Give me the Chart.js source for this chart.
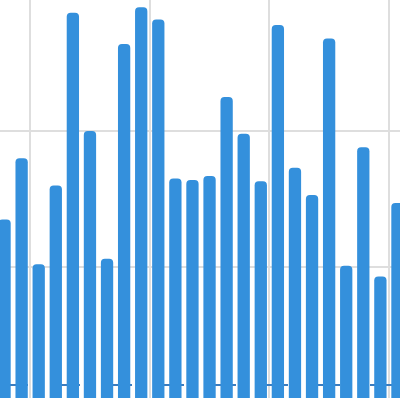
<!DOCTYPE html>
<html>
<head>
<meta charset="utf-8">
<script src="https://cdn.jsdelivr.net/npm/chart.js@4"></script>
<style>
  html, body { margin: 0; padding: 0; background: #fff; overflow: hidden; width: 400px; height: 400px; }
  #wrap { position: absolute; left: -4px; top: 0; width: 410px; height: 398px; }
</style>
</head>
<body>
<div id="wrap"><canvas id="myChart"></canvas></div>
<script>
// categories (no labels are shown in the picture)
var labels = ['1','2','3','4','5','6','7','8','9','10','11','12',
              '13','14','15','16','17','18','19','20','21','22','23','24'];
// bar heights
var values = [13.5, 18.0, 10.2, 16.0, 28.7, 20.0, 10.6, 26.4, 29.1, 28.2, 16.5, 16.4,
              16.7, 22.5, 19.8, 16.3, 27.8, 17.3, 15.3, 26.8, 10.1, 18.8, 9.3, 14.7];
// value axis range and grid lines
var yMin = 0.37;
var yMax = 29.63;
var yTicks = [10, 20];
// dashed reference line value
var refValue = 1.33;

var gridColor = '#dedede';

// dashed line drawn behind the bars
var refLine = {
  id: 'refLine',
  beforeDatasetsDraw: function(chart) {
    var ctx = chart.ctx;
    var area = chart.chartArea;
    var y = chart.scales.y.getPixelForValue(refValue);
    ctx.save();
    ctx.strokeStyle = '#3a7cbf';
    ctx.lineWidth = 2;
    ctx.setLineDash([22, 30]);
    ctx.lineDashOffset = -10;
    ctx.beginPath();
    ctx.moveTo(area.left, y);
    ctx.lineTo(area.right, y);
    ctx.stroke();
    ctx.restore();
  }
};

var ctx = document.getElementById('myChart').getContext('2d');
var myChart = new Chart(ctx, {
  type: 'bar',
  data: {
    labels: labels,
    datasets: [{
      data: values,
      backgroundColor: '#3490dc',
      borderRadius: 4,
      borderSkipped: false
    }]
  },
  options: {
    responsive: true,
    maintainAspectRatio: false,
    animation: false,
    layout: { padding: 0 },
    plugins: {
      legend: { display: false },
      tooltip: { enabled: false }
    },
    scales: {
      x: {
        ticks: { display: false },
        border: { display: false },
        grid: {
          drawTicks: false,
          lineWidth: 2,
          color: function(c) { return c.index % 7 === 2 ? gridColor : 'rgba(0,0,0,0)'; }
        }
      },
      y: {
        min: yMin,
        max: yMax,
        afterBuildTicks: function(axis) {
          axis.ticks = yTicks.map(function(v) { return { value: v }; });
        },
        ticks: { display: false },
        border: { display: false },
        grid: { drawTicks: false, lineWidth: 2, color: gridColor }
      }
    }
  },
  plugins: [refLine]
});
</script>
</body>
</html>
